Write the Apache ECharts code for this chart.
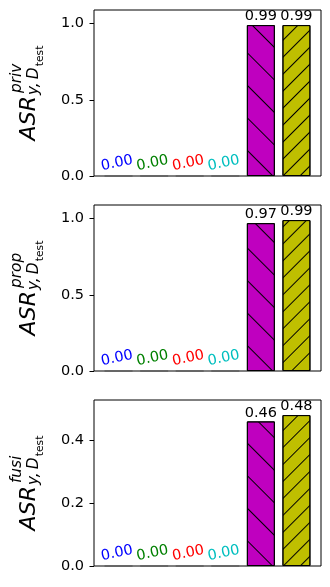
<!DOCTYPE html>
<html>
<head>
<meta charset="utf-8">
<script src="https://cdn.jsdelivr.net/npm/echarts@6/dist/echarts.min.js"></script>
<style>
  html, body { margin: 0; padding: 0; background: #fff; }
  #chart { width: 330px; height: 587px; }
</style>
</head>
<body>
<div id="chart"></div>
<script>
// values
const asrPriv = [0, 0, 0, 0, 0.99, 0.99];
const asrProp = [0, 0, 0, 0, 0.97, 0.99];
const asrFusi = [0, 0, 0, 0, 0.46, 0.48];
const panelValues = [asrPriv, asrProp, asrFusi];
const supNames = ['priv', 'prop', 'fusi'];
const yMaxes = [1.089, 1.089, 0.528];
const yTicks = [[0, 0.5, 1.0], [0, 0.5, 1.0], [0, 0.2, 0.4]];

// styles
const barColors = ['#0000ff', '#008000', '#ff0000', '#00bfbf', '#bf00bf', '#bfbf00'];
const labelColors = ['#0000ff', '#008000', '#ff0000', '#00bfbf', '#000000', '#000000'];
const labelRotate = [12, 12, 12, 12, 0, 0];
const hatches = ['', '', '', '', '\\', '//'];

const gridLeft = 94, gridWidth = 227, gridHeight = 166;
const gridTops = [10, 205, 400];
const FONT = '"DejaVu Sans", sans-serif';

const measureCtx = document.createElement('canvas').getContext('2d');
function textWidth(str, font) {
  measureCtx.font = font;
  return measureCtx.measureText(str).width;
}

function hatch(h) {
  if (!h) return null;
  return {
    symbol: 'rect',
    symbolSize: 1,
    dashArrayX: [1, 0],
    dashArrayY: h === '\\' ? [1, 22] : [1, 11],
    rotation: h === '\\' ? Math.PI / 4 : -Math.PI / 4,
    color: '#000'
  };
}

// y label ASR^{sup}_{y,D_test} drawn as rotated text pieces
function yLabel(k) {
  const big = 22, small = 15.4, tiny = 10.8;
  const fBig = 'italic ' + big + 'px ' + FONT;
  const fSmall = 'italic ' + small + 'px ' + FONT;
  const fTiny = tiny + 'px ' + FONT;
  const wA = textWidth('ASR', fBig);
  const wSup = textWidth(supNames[k], fSmall);
  const wSub = textWidth('y,\u2009D', fSmall);
  const wTiny = textWidth('test', fTiny);
  const sx = wA + 1;
  const total = Math.max(sx + 2 + wSup, sx + wSub + 1 + wTiny);
  const pieces = [
    { text: 'ASR', font: fBig, size: big, x: 0, b: 0 },
    { text: supNames[k], font: fSmall, size: small, x: sx + 2, b: -14 },
    { text: 'y,\u2009D', font: fSmall, size: small, x: sx, b: 3 },
    { text: 'test', font: fTiny, size: tiny, x: sx + wSub + 1, b: 7 }
  ];
  const mid = gridTops[k] + gridHeight / 2;
  return {
    type: 'group',
    x: 36,
    y: mid + total / 2,
    rotation: Math.PI / 2,
    children: pieces.map(p => ({
      type: 'text',
      x: p.x,
      y: p.b - 0.3 * p.size,
      style: { text: p.text, font: p.font, fill: '#000', verticalAlign: 'middle' }
    }))
  };
}

const chart = echarts.init(document.getElementById('chart'));

const grids = [], xAxes = [], yAxes = [], series = [];
panelValues.forEach((values, k) => {
  grids.push({
    left: gridLeft, top: gridTops[k], width: gridWidth, height: gridHeight,
    show: true, borderColor: '#000', borderWidth: 1, backgroundColor: '#fff'
  });
  xAxes.push({
    gridIndex: k, type: 'value', min: -0.69, max: 5.69, show: false
  });
  yAxes.push({
    gridIndex: k, type: 'value', min: 0, max: yMaxes[k],
    axisLine: { show: false, onZero: false },
    axisTick: { show: true, length: 4.5, customValues: yTicks[k], lineStyle: { color: '#000', width: 1 } },
    axisLabel: {
      customValues: yTicks[k],
      formatter: v => v.toFixed(1),
      color: '#000', fontSize: 14.5, fontFamily: FONT, margin: 10
    },
    splitLine: { show: false }
  });
  series.push({
    type: 'bar',
    xAxisIndex: k,
    yAxisIndex: k,
    barWidth: 28,
    animation: false,
    itemStyle: { borderColor: '#000', borderWidth: 1 },
    label: {
      show: true,
      position: 'top',
      fontSize: 14.5,
      fontFamily: FONT,
      formatter: p => p.value[1].toFixed(2)
    },
    data: values.map((v, i) => ({
      value: [i, v],
      itemStyle: {
        color: barColors[i],
        decal: hatch(hatches[i]),
        borderColor: v === 0 ? 'rgba(0,0,0,0.2)' : '#000'
      },
      label: { color: labelColors[i], rotate: labelRotate[i], distance: labelRotate[i] ? 5 : 1 }
    }))
  });
});

chart.setOption({
  animation: false,
  backgroundColor: '#fff',
  grid: grids,
  xAxis: xAxes,
  yAxis: yAxes,
  series: series,
  graphic: [0, 1, 2].map(yLabel)
});
window.addEventListener('resize', function () {
  chart.resize();
});
</script>
</body>
</html>
